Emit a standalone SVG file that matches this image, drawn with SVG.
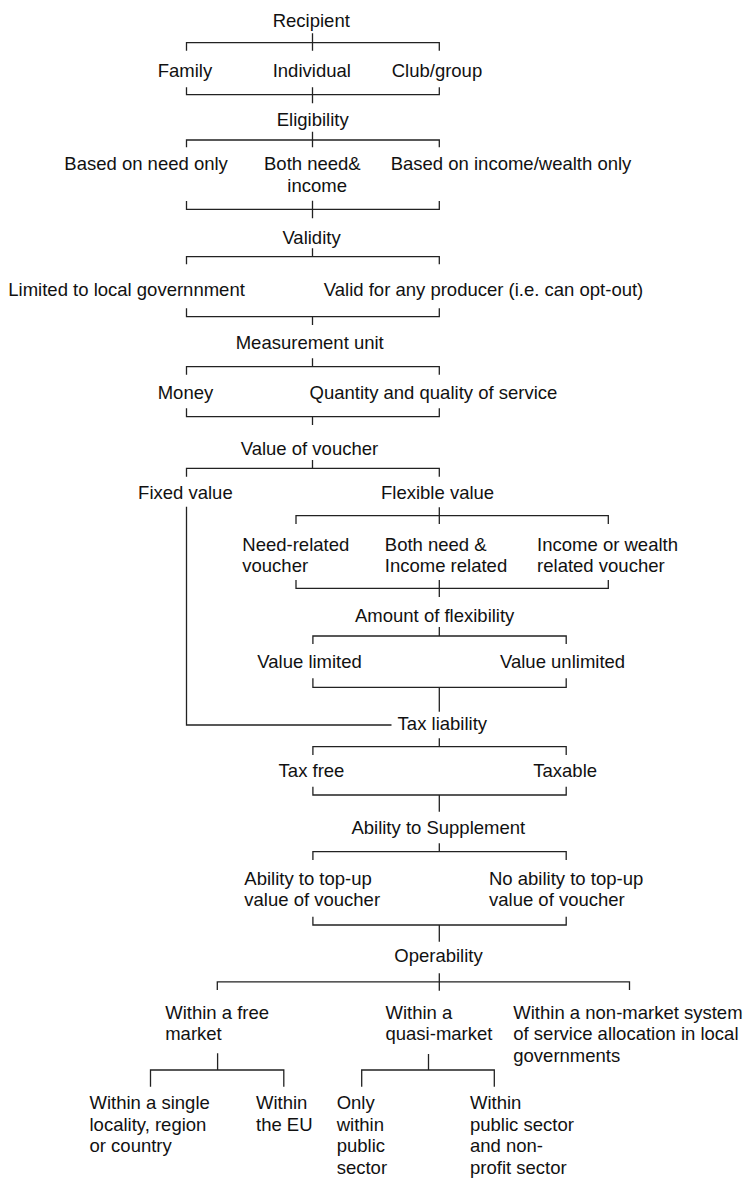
<svg xmlns="http://www.w3.org/2000/svg" width="746" height="1178" viewBox="0 0 746 1178">
<style>
text{font-family:"Liberation Sans",Arial,Helvetica,sans-serif;font-size:18.5px;fill:#111}
.c path{fill:none;stroke:#222;stroke-width:1.3}
</style>
<rect width="746" height="1178" fill="#fff"/>
<g class="c" id="connectors">
<path d="M186.5 50.7V42.7H439.3V50.7M312.5 33.3V50.7"/>
<path d="M186.5 87.3V94.7H439.3V87.3M312.5 87.3V103.3"/>
<path d="M186.5 147.3V140H439.3V147.3M312.5 131.7V147.3"/>
<path d="M186.5 201V209.3H439.3V201M312.5 200.7V218.3"/>
<path d="M186.5 264.3V256.7H439.3V264.3M312.5 248.3V256.7"/>
<path d="M186.5 308.3V316.7H439.3V308.3M312.5 316.7V325"/>
<path d="M186.5 374.7V366.7H439.3V374.7M312.5 358.3V366.7"/>
<path d="M186.5 408.3V416.7H439.3V408.3M312.5 416.7V425"/>
<path d="M186.5 476.7V468.3H439.3V476.7M312.5 460V468.3"/>
<path d="M186.5 506.7V725H391.5"/>
<path d="M439.3 507.3V524M296 524V515.7H608.3V524"/>
<path d="M296 580V588.3H608.3V580M439.3 580V597"/>
<path d="M439.3 627V636M312.9 644V636H566.2V644"/>
<path d="M312.9 678.3V687.3H566.2V678.3M439.3 687.3V711.7"/>
<path d="M439.3 738.3V746.7M312.9 755V746.7H566.2V755"/>
<path d="M312.9 786.7V795H566.2V786.7M439.3 795V811.7"/>
<path d="M439.3 843.3V851.7M312.9 860V851.7H566.2V860"/>
<path d="M312.9 916.7V925H566.2V916.7M439.3 925V941.7"/>
<path d="M439.3 973.3V990.7M217.3 990V981.9H629.5V990"/>
<path d="M217.6 1053.3V1070M150.5 1086.7V1070H283.8V1086.7"/>
<path d="M428.5 1054V1070M361.7 1086.7V1070H494.3V1086.7"/>
</g>
<g id="n-recipient"><text x="272.7" y="27.3">Recipient</text></g>
<g id="n-family"><text x="157.7" y="76.5">Family</text></g>
<g id="n-individual"><text x="272.7" y="76.5">Individual</text></g>
<g id="n-club"><text x="391.7" y="76.5">Club/group</text></g>
<g id="n-eligibility"><text x="276.7" y="125.5">Eligibility</text></g>
<g id="n-need-only"><text x="64.3" y="170">Based on need only</text></g>
<g id="n-both"><text x="264" y="170">Both need&amp;</text><text x="287.3" y="191.8">income</text></g>
<g id="n-income-only"><text x="390.7" y="170">Based on income/wealth only</text></g>
<g id="n-validity"><text x="282.4" y="244">Validity</text></g>
<g id="n-limited"><text x="8.3" y="295.7">Limited to local governnment</text></g>
<g id="n-valid-any"><text x="323.8" y="295.7">Valid for any producer (i.e. can opt-out)</text></g>
<g id="n-measurement"><text x="235.7" y="349.3">Measurement unit</text></g>
<g id="n-money"><text x="157.7" y="399">Money</text></g>
<g id="n-quantity"><text x="309.5" y="399">Quantity and quality of service</text></g>
<g id="n-value"><text x="240.7" y="454.7">Value of voucher</text></g>
<g id="n-fixed"><text x="138.1" y="499.3">Fixed value</text></g>
<g id="n-flexible"><text x="381" y="499.3">Flexible value</text></g>
<g id="n-need-related"><text x="242.3" y="550.7">Need-related</text><text x="242.3" y="572">voucher</text></g>
<g id="n-both-income"><text x="384.8" y="550.7">Both need &amp;</text><text x="384.8" y="572">Income related</text></g>
<g id="n-income-wealth"><text x="537.1" y="550.7">Income or wealth</text><text x="537.1" y="572">related voucher</text></g>
<g id="n-amount"><text x="355" y="621.7">Amount of flexibility</text></g>
<g id="n-value-limited"><text x="257.3" y="668.3">Value limited</text></g>
<g id="n-value-unlimited"><text x="500" y="668.3">Value unlimited</text></g>
<g id="n-tax"><text x="397.6" y="730">Tax liability</text></g>
<g id="n-tax-free"><text x="278.6" y="776.5">Tax free</text></g>
<g id="n-taxable"><text x="533.3" y="776.5">Taxable</text></g>
<g id="n-ability"><text x="351.4" y="834">Ability to Supplement</text></g>
<g id="n-topup"><text x="244.3" y="884.5">Ability to top-up</text><text x="244.3" y="906">value of voucher</text></g>
<g id="n-no-topup"><text x="489" y="884.5">No ability to top-up</text><text x="489" y="906">value of voucher</text></g>
<g id="n-operability"><text x="394.3" y="961.7">Operability</text></g>
<g id="n-free-market"><text x="165.2" y="1018.5">Within a free</text><text x="165.2" y="1040.2">market</text></g>
<g id="n-quasi"><text x="385.5" y="1018.5">Within a</text><text x="385.5" y="1040.2">quasi-market</text></g>
<g id="n-nonmarket"><text x="513.3" y="1018.5">Within a non-market system</text><text x="513.3" y="1040.2">of service allocation in local</text><text x="513.3" y="1061.9">governments</text></g>
<g id="n-single"><text x="89.5" y="1109">Within a single</text><text x="89.5" y="1130.7">locality, region</text><text x="89.5" y="1152.4">or country</text></g>
<g id="n-eu"><text x="256" y="1109">Within</text><text x="256" y="1130.7">the EU</text></g>
<g id="n-only-public"><text x="336.7" y="1109">Only</text><text x="336.7" y="1130.7">within</text><text x="336.7" y="1152.4">public</text><text x="336.7" y="1174">sector</text></g>
<g id="n-public-nonprofit"><text x="470" y="1109">Within</text><text x="470" y="1130.7">public sector</text><text x="470" y="1152.4">and non-</text><text x="470" y="1174">profit sector</text></g>
</svg>
